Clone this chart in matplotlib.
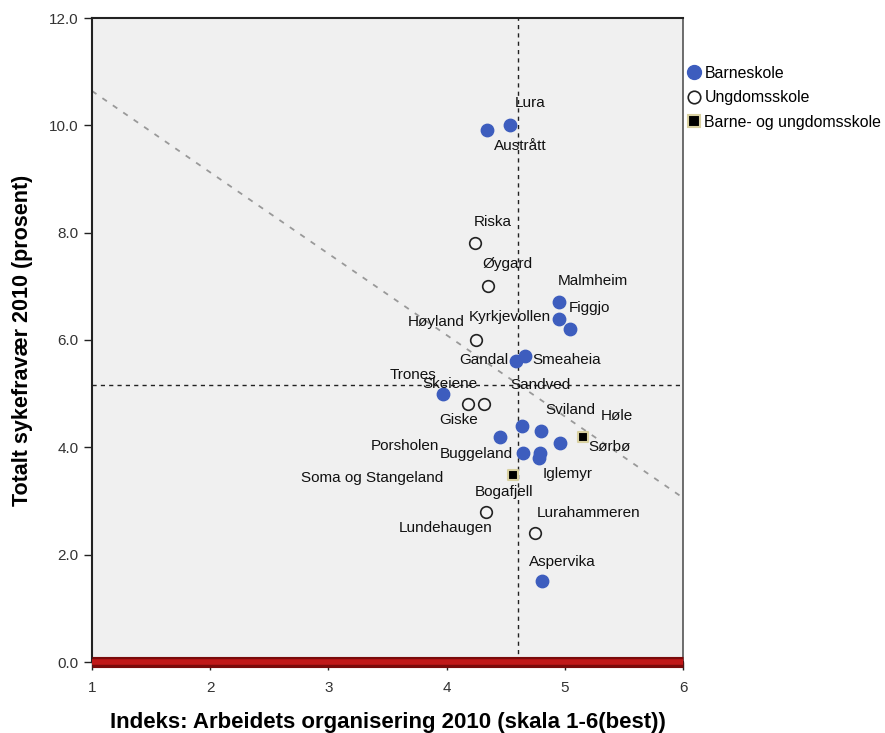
import matplotlib
matplotlib.use("Agg")
import matplotlib.pyplot as plt
from matplotlib.lines import Line2D

plt.rcParams['font.family'] = ['Liberation Sans', 'DejaVu Sans']

# Barneskole
barne_names = ["Lura", "Austrått", "Malmheim", "Kyrkjevollen", "Figgjo", "Smeaheia",
               "Gandal", "Trones", "Sandved", "Sviland", "Sørbø", "Porsholen",
               "Buggeland", "Iglemyr", "Bogafjell", "Aspervika"]
barne_x = [4.54, 4.34, 4.95, 4.95, 5.04, 4.66, 4.59, 3.97, 4.64, 4.80, 4.96, 4.45,
           4.65, 4.79, 4.78, 4.81]
barne_y = [10.00, 9.91, 6.71, 6.39, 6.20, 5.70, 5.61, 5.00, 4.40, 4.31, 4.09, 4.20,
           3.90, 3.90, 3.81, 1.51]

# Ungdomsskole
ungdom_names = ["Riska", "Øygard", "Høyland", "Skeiene", "Giske", "Lundehaugen", "Lurahammeren"]
ungdom_x = [4.24, 4.35, 4.25, 4.18, 4.32, 4.33, 4.75]
ungdom_y = [7.81, 7.01, 6.00, 4.80, 4.80, 2.79, 2.41]

# Barne- og ungdomsskole
kombi_names = ["Høle", "Soma og Stangeland"]
kombi_x = [5.15, 4.56]
kombi_y = [4.20, 3.48]

# Mean reference lines and linear fit
mean_x = 4.60
mean_y = 5.16
fit_intercept_at_1 = 10.64
fit_value_at_6 = 3.06

x_ticks = [1, 2, 3, 4, 5, 6]
y_ticks = [0, 2, 4, 6, 8, 10, 12]

# Label placement (offset in pixels from each point)
label_offsets = {
    "Lura": (20, 22), "Austrått": (33, -16), "Malmheim": (34, 21),
    "Kyrkjevollen": (-49, 2), "Figgjo": (20, 21), "Smeaheia": (42, -4),
    "Gandal": (-33, 1), "Trones": (-30, 19), "Sandved": (18, 41),
    "Sviland": (29, 21), "Sørbø": (49, -4), "Porsholen": (-95, -9),
    "Buggeland": (-47, -1), "Iglemyr": (28, -21), "Bogafjell": (-35, -34),
    "Aspervika": (20, 19), "Riska": (18, 21), "Øygard": (20, 22),
    "Høyland": (-40, 18), "Skeiene": (-18, 20), "Giske": (-26, -16),
    "Lundehaugen": (-40, -16), "Lurahammeren": (53, 20), "Høle": (34, 21),
    "Soma og Stangeland": (-141, -3),
}

fig = plt.figure(figsize=(8.85, 7.33), dpi=100)
fig.patch.set_facecolor("white")
ax = fig.add_axes([92 / 885, 1 - 662 / 733, (683 - 92) / 885, (662 - 18) / 733])
ax.set_facecolor("#f0f0f0")
ax.set_xlim(1, 6)
ax.set_ylim(0, 12)

# Reference lines
ax.axvline(mean_x, color="#222222", lw=1.0, ls=(0, (3, 3)), zorder=1)
ax.axhline(mean_y, color="#222222", lw=1.0, ls=(0, (3, 3)), zorder=1)
ax.plot([1, 6], [fit_intercept_at_1, fit_value_at_6], color="#999999", lw=1.3,
        ls=(0, (3, 4)), zorder=1)

# Points
ax.scatter(barne_x, barne_y, s=80, color="#3d5dbe", edgecolors="#3d5dbe", zorder=3)
ax.scatter(ungdom_x, ungdom_y, s=70, facecolors="#f4f4f4", edgecolors="#222222",
           linewidths=1.2, zorder=3)
ax.scatter(kombi_x, kombi_y, s=55, marker="s", color="black", edgecolors="#d8d0a0",
           linewidths=1.5, zorder=3)

for names, xs, ys in ((barne_names, barne_x, barne_y),
                      (ungdom_names, ungdom_x, ungdom_y),
                      (kombi_names, kombi_x, kombi_y)):
    for n, x, y in zip(names, xs, ys):
        ax.annotate(n, (x, y), xytext=label_offsets[n], textcoords="offset pixels",
                    ha="center", va="center", fontsize=11, color="#111111", zorder=4)

# Red baseline at zero
ax.axhline(0, color="#7a0a0a", lw=8, zorder=5, clip_on=False, solid_capstyle="butt")
ax.axhline(0, color="#c01818", lw=4, zorder=6, clip_on=False, solid_capstyle="butt")

ax.set_xticks(x_ticks)
ax.set_xticklabels([str(t) for t in x_ticks])
ax.set_yticks(y_ticks)
ax.set_yticklabels([f"{t:.1f}" for t in y_ticks])
ax.tick_params(axis="both", direction="out", length=6, width=1, colors="#222222",
               labelsize=11, labelcolor="#333333")
ax.tick_params(axis="x", pad=8)

for side in ("left", "bottom", "top"):
    ax.spines[side].set_color("#222222")
    ax.spines[side].set_linewidth(1.5)
ax.spines["right"].set_color("#555555")
ax.spines["right"].set_linewidth(1.2)

ax.set_xlabel("Indeks: Arbeidets organisering 2010 (skala 1-6(best))",
              fontsize=16, fontweight="bold", labelpad=12)
ax.set_ylabel("Totalt sykefravær 2010 (prosent)", fontsize=15.5, fontweight="bold",
              labelpad=12)

handles = [
    Line2D([], [], marker="o", ls="none", markersize=10, color="#3d5dbe"),
    Line2D([], [], marker="o", ls="none", markersize=9, markerfacecolor="white",
           markeredgecolor="#222222", markeredgewidth=1.2),
    Line2D([], [], marker="s", ls="none", markersize=8, markerfacecolor="black",
           markeredgecolor="#d8d0a0", markeredgewidth=1.5),
]
fig.legend(handles, ["Barneskole", "Ungdomsskole", "Barne- og ungdomsskole"],
           loc="upper left", bbox_to_anchor=(683 / 885, 1 - 64 / 733), frameon=False,
           fontsize=11.4, handletextpad=0.05, handlelength=1.2, labelspacing=0.6,
           borderaxespad=0, borderpad=0.1)

fig.savefig("out.png", dpi=100)
